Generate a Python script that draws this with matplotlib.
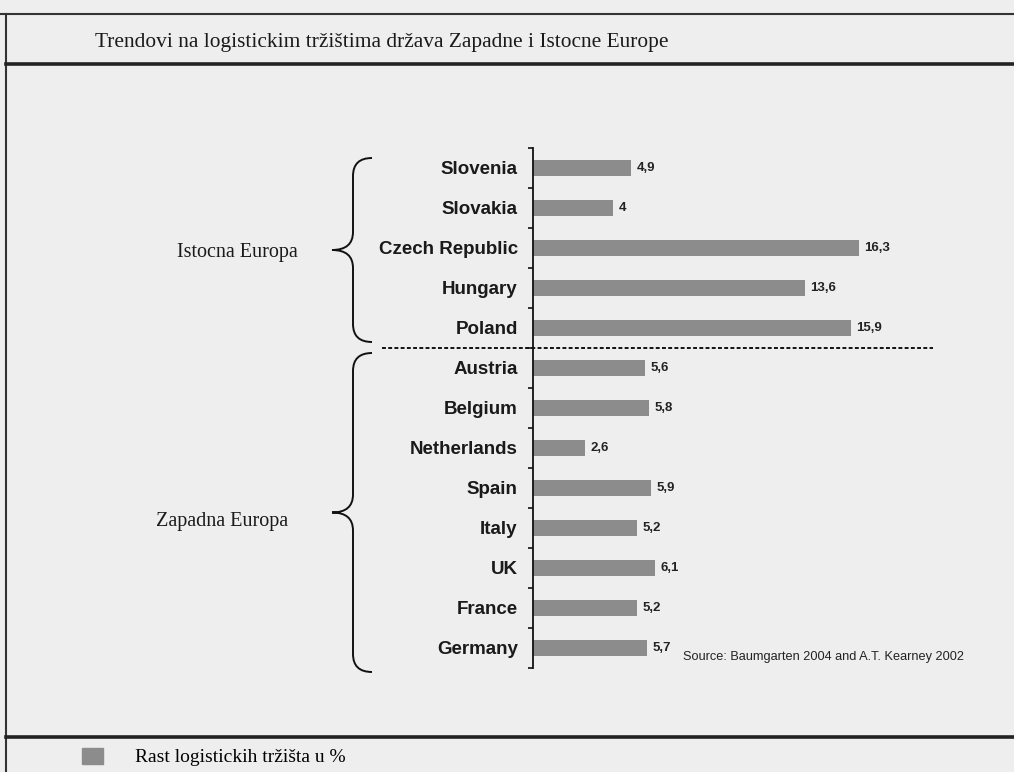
import numpy as np
import matplotlib
matplotlib.use('Agg')
import matplotlib.pyplot as plt
from matplotlib.path import Path
from matplotlib.patches import PathPatch, Patch
from matplotlib.lines import Line2D
from matplotlib.transforms import blended_transform_factory

# data
title = 'Trendovi na logistickim tržištima država Zapadne i Istocne Europe'
countries = ['Slovenia', 'Slovakia', 'Czech Republic', 'Hungary', 'Poland',
             'Austria', 'Belgium', 'Netherlands', 'Spain', 'Italy', 'UK', 'France', 'Germany']
growth = [4.9, 4.0, 16.3, 13.6, 15.9, 5.6, 5.8, 2.6, 5.9, 5.2, 6.1, 5.2, 5.7]
groups = ['Istocna Europa', 'Zapadna Europa']
group_sizes = [5, 8]
source = 'Source: Baumgarten 2004 and A.T. Kearney 2002'
legend_label = 'Rast logistickih tržišta u %'

W, H = 1014, 772
BG = '#eeeeee'
BAR = '#8c8c8c'
SERIF = ['Liberation Serif', 'DejaVu Serif']
SANS = ['Liberation Sans', 'DejaVu Sans']

def fx(px):
    return px / W

def fy(py):
    return 1 - py / H

fig = plt.figure(figsize=(W / 100, H / 100), dpi=100, facecolor=BG)

# frame lines of the scanned box
fig.add_artist(Line2D([fx(0), 1], [fy(14), fy(14)], color='#333333', lw=1.5))
fig.add_artist(Line2D([fx(6), fx(6)], [fy(14), 0], color='#333333', lw=1.5))
fig.add_artist(Line2D([fx(6), 1], [fy(64), fy(64)], color='#222222', lw=2.6))
fig.add_artist(Line2D([fx(6), 1], [fy(737), fy(737)], color='#222222', lw=2.6))

fig.text(fx(95), fy(42), title, family=SERIF, fontsize=15.4, ha='left', va='center', color='#1a1a1a')

ax = fig.add_axes([fx(533), fy(668), 460 / W, 520 / H])
ax.set_facecolor('none')
y = np.arange(len(countries))
ax.barh(y, growth, height=0.38, color=BAR, align='center')
ax.set_xlim(0, 23)
ax.set_ylim(len(countries) - 0.5, -0.5)

for yi, v in zip(y, growth):
    ax.annotate(f'{v:g}'.replace('.', ','), (v, yi), xytext=(4, 0), textcoords='offset points',
                ha='left', va='center', fontsize=9.5, fontweight='bold', family=SANS, color='#222222')

for s in ['top', 'right', 'bottom']:
    ax.spines[s].set_visible(False)
ax.spines['left'].set_linewidth(1.3)
ax.spines['left'].set_color('#111111')
ax.set_xticks([])
ax.set_yticks(y)
ax.set_yticklabels(countries, fontsize=13.5, fontweight='bold', family=SANS, color='#1a1a1a')
ax.set_yticks(np.arange(len(countries) + 1) - 0.5, minor=True)
ax.tick_params(axis='y', which='major', length=0, pad=11)
ax.tick_params(axis='y', which='minor', length=3.6, width=1.2, color='#111111')

# separator between groups
bt = blended_transform_factory(fig.transFigure, ax.transData)
split = group_sizes[0] - 0.5
ax.plot([fx(382), fx(933)], [split, split], transform=bt, clip_on=False,
        color='#111111', lw=1.4, ls=(0, (2, 1.2)))

# curly braces with group labels
def brace(y0, y1, xe, xs, xt, r):
    ym = (y0 + y1) / 2
    verts = [(xe, y0), (xs, y0), (xs, y0 + r),
             (xs, ym - r),
             (xs, ym), (xt, ym),
             (xs, ym), (xs, ym + r),
             (xs, y1 - r),
             (xs, y1), (xe, y1)]
    codes = [Path.MOVETO, Path.CURVE3, Path.CURVE3,
             Path.LINETO,
             Path.CURVE3, Path.CURVE3,
             Path.CURVE3, Path.CURVE3,
             Path.LINETO,
             Path.CURVE3, Path.CURVE3]
    return Path(verts, codes), ym

brace_pads = [(0.25, 0.15), (0.125, -0.1)]
label_x = [fx(237), fx(222)]
label_dy = [0.0, 0.18]
start = -0.5
for name, n, (pt, pb), lx, dy in zip(groups, group_sizes, brace_pads, label_x, label_dy):
    y0 = start + pt
    y1 = start + n - pb
    path, ym = brace(y0, y1, fx(372), fx(353), fx(332), 0.45)
    ax.add_patch(PathPatch(path, transform=bt, fill=False, lw=1.4, ec='#111111', clip_on=False))
    ax.text(lx, ym + 0.05 + dy, name, transform=bt, family=SERIF, fontsize=14.5,
            ha='center', va='center', color='#1a1a1a')
    start += n

fig.text(fx(683), fy(657), source, family=SANS, fontsize=9.2,
         ha='left', va='center', color='#222222')

fig.legend(handles=[Patch(color=BAR)], labels=[legend_label], loc='center left',
           bbox_to_anchor=(fx(82), fy(757)), frameon=False, borderpad=0, borderaxespad=0,
           handlelength=1.08, handleheight=0.88, handletextpad=1.65,
           prop={'family': SERIF, 'size': 14})

fig.savefig('out.png', dpi=100, facecolor=BG)
